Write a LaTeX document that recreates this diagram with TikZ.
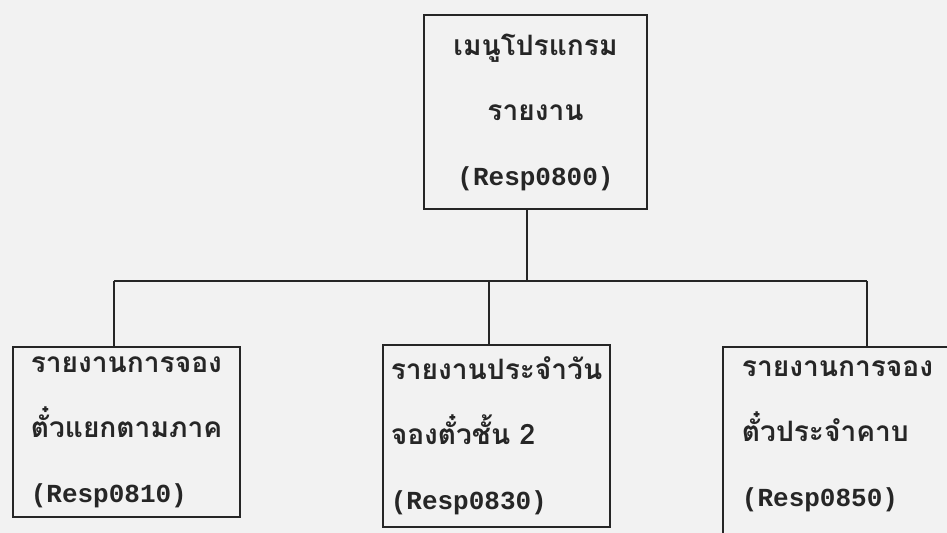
\documentclass[tikz,border=0pt]{standalone}
\usepackage{fontspec}
\newfontfamily\thaifont[Script=Thai]{Loma}
\newfontfamily\codefont{Liberation Mono}
\newcommand{\rcode}[1]{{\codefont\bfseries\fontsize{14.8}{37}\selectfont(#1)}}

\begin{document}
\begin{tikzpicture}[x=0.02cm, y=-0.02cm, line width=1.1pt, black!85,
    menu/.style={draw, align=center, minimum width=4.46cm, minimum height=3.88cm,
                 font=\thaifont\bfseries\fontsize{16}{37}\selectfont},
    leaf/.style={draw, align=left, minimum width=4.54cm,
                 font=\thaifont\bfseries\fontsize{16}{37}\selectfont}]
    \fill[gray!10] (0,0) rectangle (947,533);
    \clip (0,0) rectangle (947,533);

    \node[menu]                         (m800) at (535.5,112) {เมนูโปรแกรม\\รายงาน\\\rcode{Resp0800}};
    \node[leaf, minimum height=3.4cm]   (r810) at (126.5,432) {รายงานการจอง\\ตั๋วแยกตามภาค\\\rcode{Resp0810}};
    \node[leaf, minimum height=3.64cm]  (r830) at (496.5,436) {รายงานประจำวัน\\จองตั๋วชั้น 2\\\rcode{Resp0830}};
    \node[leaf, minimum width=4.58cm, minimum height=3.8cm]
                                        (r850) at (837.5,442) {รายงานการจอง\\ตั๋วประจำคาบ\\\rcode{Resp0850}\rule[-0.34cm]{0pt}{0pt}};

    % bus line under the menu box
    \coordinate (hub)  at (527,281);
    \coordinate (b810) at (114,281);
    \coordinate (b830) at (489,281);
    \coordinate (b850) at (867,281);

    \draw (m800.south -| hub) -- (hub);
    \draw (b810) -- (b850);
    \draw (b810) -- (b810 |- r810.north);
    \draw (b830) -- (b830 |- r830.north);
    \draw (b850) -- (b850 |- r850.north);
\end{tikzpicture}
\end{document}
